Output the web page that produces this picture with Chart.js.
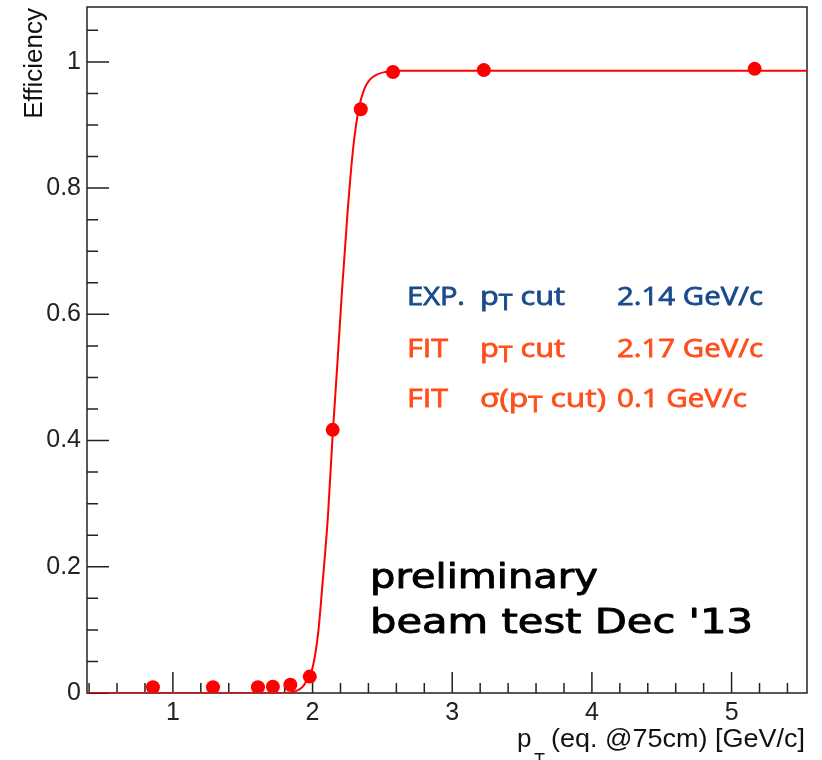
<!DOCTYPE html>
<html>
<head>
<meta charset="utf-8">
<script src="https://cdn.jsdelivr.net/npm/chart.js@4.4.1/dist/chart.umd.min.js"></script>
<style>
    html, body { margin: 0; padding: 0; background: #fff; }
</style>
</head>
<body>
<canvas id="eff_chart" width="822" height="760"></canvas>
<script>
// measured points
var ptPoints = [0.857, 1.287, 1.609, 1.716, 1.841, 1.980, 2.144, 2.345, 2.576, 3.226, 5.165];
var effPoints = [0.009, 0.009, 0.009, 0.010, 0.013, 0.026, 0.417, 0.925, 0.984, 0.987, 0.989];

// fitted turn-on curve, sampled
var fitPt = [0.385, 1.80, 1.88, 1.93, 1.97, 2.00, 2.04, 2.07, 2.11, 2.14, 2.18, 2.21, 2.25, 2.29, 2.33, 2.37, 2.41, 2.46, 2.52, 2.60, 5.54];
var fitEff = [0.0, 0.0, 0.003, 0.010, 0.025, 0.040, 0.095, 0.170, 0.280, 0.395, 0.530, 0.635, 0.760, 0.862, 0.925, 0.957, 0.972, 0.980, 0.984, 0.986, 0.986];

var xTickValues = [1, 2, 3, 4, 5];
var yTickValues = [0, 0.2, 0.4, 0.6, 0.8, 1];
var xRange = [0.385, 5.54];
var yRange = [0, 1.087];

var expLine = ['EXP.', 'cut', '2.14 GeV/c'];
var fitLine = ['FIT', 'cut', '2.17 GeV/c'];
var sigmaLine = ['FIT', 'cut)', '0.1 GeV/c'];

function toXY(xs, ys) {
    return xs.map(function (x, i) { return { x: x, y: ys[i] }; });
}

// draw a run of text pieces, squeezed horizontally to a given width
function drawRun(ctx, parts, x, y, width, stroke) {
    var total = 0;
    parts.forEach(function (p) {
        ctx.font = p.font;
        p.w = ctx.measureText(p.t).width;
        total += p.w;
    });
    var sx = width ? width / total : 1;
    ctx.save();
    ctx.translate(x, y);
    ctx.scale(sx, 1);
    var cx = 0;
    parts.forEach(function (p) {
        ctx.font = p.font;
        ctx.fillText(p.t, cx, p.dy || 0);
        if (stroke) {
            ctx.lineWidth = stroke;
            ctx.strokeText(p.t, cx, p.dy || 0);
        }
        cx += p.w;
    });
    ctx.restore();
}

var frameAndTicks = {
    id: 'frameAndTicks',
    beforeDatasetsDraw: function (chart) {
        var ctx = chart.ctx, a = chart.chartArea;
        var xs = chart.scales.x, ys = chart.scales.y;
        ctx.save();
        ctx.strokeStyle = '#222';
        ctx.lineWidth = 1.5;
        ctx.strokeRect(a.left, a.top, a.right - a.left, a.bottom - a.top);
        ctx.beginPath();
        var v;
        for (v = 0.4; v < xRange[1]; v += 0.2) {
            var major = Math.abs(v - Math.round(v)) < 1e-6;
            var px = xs.getPixelForValue(v);
            ctx.moveTo(px, a.bottom);
            ctx.lineTo(px, a.bottom - (major ? 21 : 10));
        }
        for (v = 0; v < yRange[1]; v += 0.05) {
            var majorY = Math.abs(v * 5 - Math.round(v * 5)) < 1e-6;
            var py = ys.getPixelForValue(v);
            ctx.moveTo(a.left, py);
            ctx.lineTo(a.left + (majorY ? 22 : 11), py);
        }
        ctx.stroke();
        ctx.restore();
    },
    afterDraw: function (chart) {
        var ctx = chart.ctx;
        ctx.save();
        ctx.textBaseline = 'alphabetic';
        ctx.fillStyle = '#111';

        // y axis title
        ctx.save();
        ctx.translate(42, 8);
        ctx.rotate(-Math.PI / 2);
        ctx.textAlign = 'right';
        ctx.font = '26px "Liberation Sans", Arial, sans-serif';
        ctx.fillText('Efficiency', 0, 0);
        ctx.restore();

        // x axis title
        ctx.font = '26px "Liberation Sans", Arial, sans-serif';
        ctx.fillText('p', 517, 747);
        ctx.font = '18px "Liberation Sans", Arial, sans-serif';
        ctx.fillText('T', 534, 766);
        drawRun(ctx, [{ t: '(eq. @75cm) [GeV/c]', font: '26px "Liberation Sans", Arial, sans-serif' }], 551, 747, 254);

        // fit summary
        var f = '26px "Open Sans", sans-serif', fs = '21px "Open Sans", sans-serif';
        var rows = [
            { c: '#1a4b8c', y: 305, l: expLine, pre: 'p', w2: 85, w3: 146 },
            { c: '#ff4f1c', y: 357, l: fitLine, pre: 'p', w2: 85, w3: 146 },
            { c: '#ff4f1c', y: 407, l: sigmaLine, pre: '\u03c3(p', w2: 126, w3: 130 }
        ];
        rows.forEach(function (r) {
            ctx.fillStyle = r.c;
            ctx.strokeStyle = r.c;
            drawRun(ctx, [{ t: r.l[0], font: f }], 407, r.y, r.l[0] === 'EXP.' ? 58 : 41, 0.8);
            drawRun(ctx, [{ t: r.pre, font: f }, { t: 'T', font: fs, dy: 5 }, { t: ' ' + r.l[1], font: f }], 480, r.y, r.w2, 0.8);
            drawRun(ctx, [{ t: r.l[2], font: f }], 617, r.y, r.w3, 0.8);
        });

        // stamp
        ctx.fillStyle = '#000';
        ctx.strokeStyle = '#000';
        ctx.lineJoin = 'round';
        var sf = '33px "DejaVu Sans", sans-serif';
        drawRun(ctx, [{ t: 'preliminary', font: sf }], 370, 588, 228, 0.9);
        drawRun(ctx, [{ t: 'beam test Dec \'13', font: sf }], 370, 633, 383, 0.9);
        ctx.restore();
    }
};

new Chart(document.getElementById('eff_chart').getContext('2d'), {
    type: 'scatter',
    data: {
        datasets: [{
            type: 'line',
            label: 'fit',
            data: toXY(fitPt, fitEff),
            borderColor: '#ff0000',
            borderWidth: 2,
            pointRadius: 0,
            fill: false,
            cubicInterpolationMode: 'monotone'
        }, {
            label: 'data',
            data: toXY(ptPoints, effPoints),
            backgroundColor: '#ff0000',
            borderWidth: 0,
            pointRadius: 7
        }]
    },
    options: {
        responsive: false,
        animation: false,
        devicePixelRatio: 1,
        layout: { padding: { top: 6, right: 15, left: 0, bottom: 0 } },
        plugins: { legend: { display: false }, tooltip: { enabled: false } },
        scales: {
            x: {
                type: 'linear',
                min: xRange[0],
                max: xRange[1],
                grid: { display: false, drawTicks: false },
                border: { display: false },
                afterBuildTicks: function (s) { s.ticks = xTickValues.map(function (v) { return { value: v }; }); },
                afterFit: function (s) { s.height = 67; s.paddingLeft = 0; s.paddingRight = 0; },
                ticks: {
                    font: { family: '"Liberation Sans", Arial, sans-serif', size: 25 },
                    color: '#222',
                    padding: 5,
                    maxRotation: 0,
                    autoSkip: false,
                    callback: function (v) { return String(v); }
                }
            },
            y: {
                type: 'linear',
                min: yRange[0],
                max: yRange[1],
                grid: { display: false, drawTicks: false },
                border: { display: false },
                afterBuildTicks: function (s) { s.ticks = yTickValues.map(function (v) { return { value: v }; }); },
                afterFit: function (s) { s.width = 87; s.paddingTop = 0; s.paddingBottom = 0; },
                ticks: {
                    font: { family: '"Liberation Sans", Arial, sans-serif', size: 25 },
                    color: '#222',
                    padding: 6,
                    autoSkip: false,
                    callback: function (v) { return String(v); }
                }
            }
        }
    },
    plugins: [frameAndTicks]
});
</script>
</body>
</html>
